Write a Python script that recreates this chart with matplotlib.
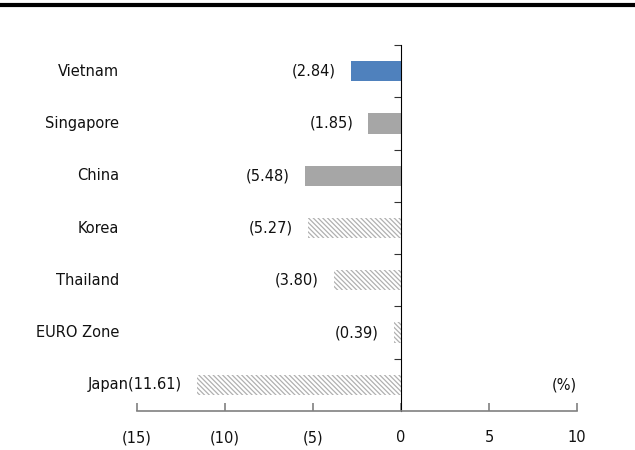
import matplotlib.pyplot as plt
import numpy as np

countries = ["Vietnam", "Singapore", "China", "Korea", "Thailand", "EURO Zone", "Japan"]
values = [-2.84, -1.85, -5.48, -5.27, -3.80, -0.39, -11.61]
styles = ["blue", "solid", "solid", "hatch", "hatch", "hatch", "hatch"]
xticks = [-15, -10, -5, 0, 5, 10]


def fmt(v):
    return f"({abs(v):.2f})" if v < 0 else f"{v:.2f}"


def fmt_tick(v):
    return f"({abs(v)})" if v < 0 else str(v)


plt.rcParams['font.family'] = ['DejaVu Sans']
plt.rcParams['hatch.linewidth'] = 0.9
plt.rcParams['hatch.color'] = '#b0b0b0'

fig = plt.figure(figsize=(6.35, 4.5), dpi=100, facecolor='w')
ax = fig.add_axes([137/635, 1 - 411/450, 440/635, 366/450])

y = np.arange(len(countries))
for yi, v, s in zip(y, values, styles):
    if s == "blue":
        ax.barh(yi, v, height=0.39, color='#4f81bd', edgecolor='none')
    elif s == "solid":
        ax.barh(yi, v, height=0.39, color='#a6a6a6', edgecolor='none')
    else:
        ax.barh(yi, v, height=0.39, color='white', edgecolor='#b0b0b0',
                hatch='\\' * 7, linewidth=0)

ax.set_xlim(-15, 10)
ax.set_ylim(len(countries) - 0.5, -0.5)

# value labels, Japan's label sits right against its category name
for yi, v, c in zip(y, values, countries):
    txt = fmt(v)
    if c == "Japan":
        txt = c + txt
    ax.annotate(txt, (v, yi), xytext=(-11, 0), textcoords='offset points',
                ha='right', va='center', fontsize=10.5, color='#111111')
    if c != "Japan":
        ax.text(-0.04, yi, c, transform=ax.get_yaxis_transform(),
                ha='right', va='center', fontsize=10.5, color='#111111')

ax.text(10, 6, "(%)", ha='right', va='center', fontsize=10.5, color='#111111')

for sp in ['top', 'right']:
    ax.spines[sp].set_visible(False)
ax.spines['left'].set_position(('data', 0))
ax.spines['left'].set_color('black')
ax.spines['bottom'].set_color('#808080')
ax.spines['bottom'].set_linewidth(1.2)

ax.set_yticks(np.arange(-0.5, len(countries) - 0.5, 1))
ax.set_yticklabels([])
ax.tick_params(axis='y', direction='in', length=5, color='#333333', left=True)
# flip y ticks to point right of the axis
for t in ax.yaxis.get_major_ticks():
    t.tick1line.set_marker(0)  # TICKRIGHT

ax.set_xticks(xticks)
ax.set_xticklabels([fmt_tick(t) for t in xticks])
ax.tick_params(axis='x', direction='in', length=6, color='#808080',
               width=1.2, pad=14, labelsize=10.5, labelcolor='#111111')

fig.add_artist(plt.Line2D([0, 1], [1 - 5/450, 1 - 5/450], color='black',
                          linewidth=3, transform=fig.transFigure))

fig.savefig("out.png", dpi=100)
